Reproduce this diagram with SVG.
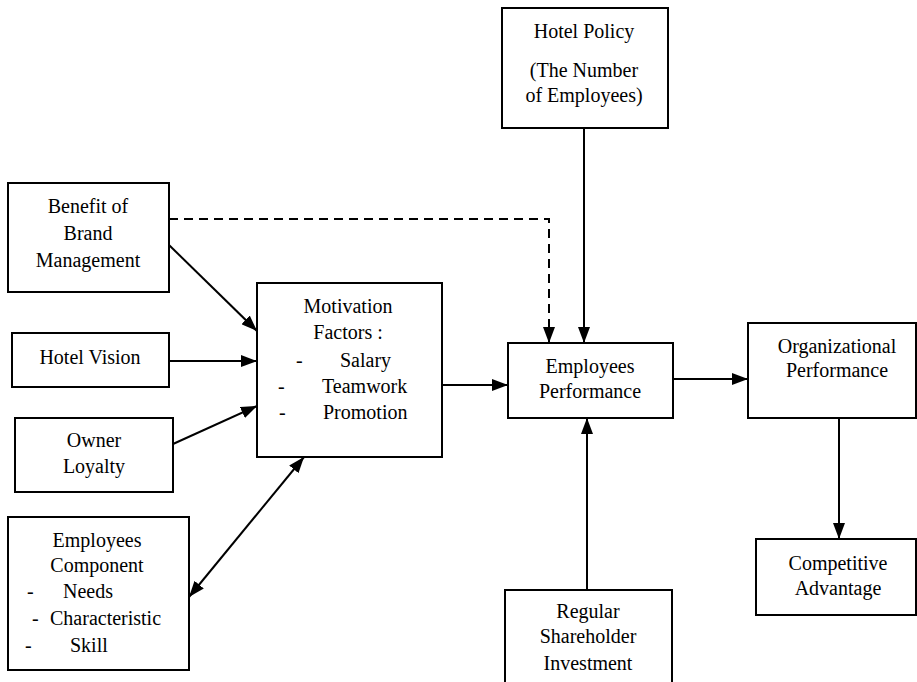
<svg xmlns="http://www.w3.org/2000/svg" width="917" height="682" viewBox="0 0 917 682">
<style>
.box{fill:#fff;stroke:#000;stroke-width:2}
text{font-size:20px;fill:#000;text-anchor:middle}
.s{text-anchor:start}
.c{stroke:#000;stroke-width:2;fill:none}
.d{stroke-dasharray:9,6}
</style>
<defs>
<marker id="ah" viewBox="0 0 16 12" refX="16" refY="6" markerWidth="16" markerHeight="12" markerUnits="userSpaceOnUse" orient="auto-start-reverse">
<path d="M0,0 L16,6 L0,12 Z" fill="#000"/>
</marker>
</defs>
<rect width="917" height="682" fill="#fff"/>
<g id="connectors">
<line class="c" x1="169" y1="245" x2="257" y2="331" marker-end="url(#ah)"/>
<line class="c" x1="169" y1="361" x2="257" y2="361" marker-end="url(#ah)"/>
<line class="c" x1="173" y1="444" x2="257" y2="406" marker-end="url(#ah)"/>
<line class="c" x1="189" y1="597" x2="304" y2="457" marker-start="url(#ah)" marker-end="url(#ah)"/>
<polyline class="c d" points="169,219 549,219 549,343" marker-end="url(#ah)"/>
<line class="c" x1="584" y1="128" x2="584" y2="343" marker-end="url(#ah)"/>
<line class="c" x1="442" y1="385" x2="508" y2="385" marker-end="url(#ah)"/>
<line class="c" x1="673" y1="379" x2="748" y2="379" marker-end="url(#ah)"/>
<line class="c" x1="587" y1="590" x2="587" y2="418" marker-end="url(#ah)"/>
<line class="c" x1="839" y1="418" x2="839" y2="539" marker-end="url(#ah)"/>
</g>
<g font-family="Liberation Serif, Times New Roman, serif">
<g id="benefit">
<rect class="box" x="8" y="183" width="161" height="109"/>
<text x="88" y="213">Benefit of</text>
<text x="88" y="240">Brand</text>
<text x="88" y="267">Management</text>
</g>
<g id="vision">
<rect class="box" x="12" y="333" width="157" height="54"/>
<text x="90" y="364">Hotel Vision</text>
</g>
<g id="loyalty">
<rect class="box" x="15" y="418" width="158" height="74"/>
<text x="94" y="447">Owner</text>
<text x="94" y="473">Loyalty</text>
</g>
<g id="component">
<rect class="box" x="8" y="517" width="181" height="153"/>
<text x="97" y="547">Employees</text>
<text x="97" y="572">Component</text>
<text class="s" x="27" y="598">-</text>
<text class="s" x="63" y="598">Needs</text>
<text class="s" x="32" y="625">-</text>
<text class="s" x="50" y="625">Characteristic</text>
<text class="s" x="25" y="652">-</text>
<text class="s" x="70" y="652">Skill</text>
</g>
<g id="motivation">
<rect class="box" x="257" y="283" width="185" height="174"/>
<text x="348" y="313">Motivation</text>
<text x="348" y="339">Factors :</text>
<text class="s" x="296" y="367">-</text>
<text class="s" x="340" y="367">Salary</text>
<text class="s" x="278" y="393">-</text>
<text class="s" x="322" y="393">Teamwork</text>
<text class="s" x="279" y="419">-</text>
<text class="s" x="323" y="419">Promotion</text>
</g>
<g id="policy">
<rect class="box" x="502" y="8" width="166" height="120"/>
<text x="584" y="38">Hotel Policy</text>
<text x="584" y="77">(The Number</text>
<text x="584" y="102">of Employees)</text>
</g>
<g id="empperf">
<rect class="box" x="508" y="343" width="165" height="75"/>
<text x="590" y="373">Employees</text>
<text x="590" y="398">Performance</text>
</g>
<g id="orgperf">
<rect class="box" x="748" y="323" width="168" height="95"/>
<text x="837" y="353">Organizational</text>
<text x="837" y="377">Performance</text>
</g>
<g id="competitive">
<rect class="box" x="756" y="539" width="160" height="76"/>
<text x="838" y="570">Competitive</text>
<text x="838" y="595">Advantage</text>
</g>
<g id="shareholder">
<rect class="box" x="505" y="590" width="167" height="110"/>
<text x="588" y="618">Regular</text>
<text x="588" y="643">Shareholder</text>
<text x="588" y="670">Investment</text>
</g>
</g>
</svg>
